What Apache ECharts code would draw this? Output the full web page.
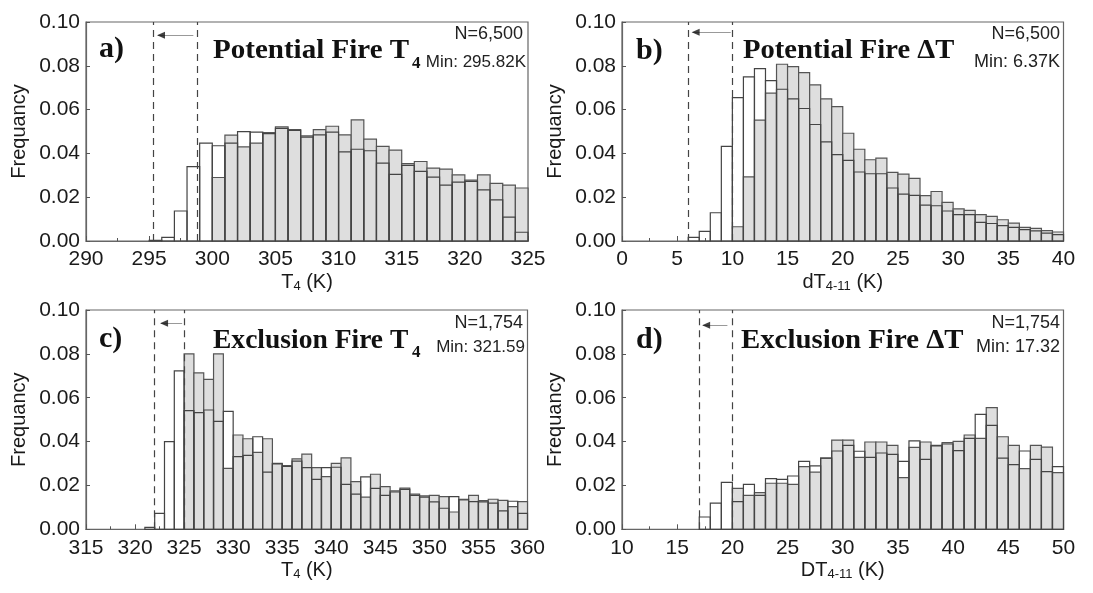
<!DOCTYPE html>
<html><head><meta charset="utf-8">
<script src="https://cdn.jsdelivr.net/npm/echarts@6/dist/echarts.min.js"></script>
<style>html,body{margin:0;padding:0;background:#fff}#c{width:1093px;height:593px}</style>
</head><body><div id="c"></div>
<script>
// ---- data ----
const aBins = [295,296,297,298,299,300,301,302,303,304,305,306,307,308,309,310,311,312,313,314,315,316,317,318,319,320,321,322,323,324];
const aWhite = [0.0003,0.0017,0.0137,0.034,0.0447,0.0435,0.0447,0.0499,0.0497,0.049,0.0514,0.0505,0.0474,0.0485,0.0497,0.0407,0.0419,0.0412,0.0356,0.0304,0.0345,0.0318,0.0292,0.0255,0.0269,0.0272,0.0233,0.0188,0.0109,0.004];
const aGray  = [0,0,0,0,0,0.029,0.0483,0.043,0.0447,0.0495,0.0521,0.0509,0.048,0.0509,0.0524,0.0485,0.0553,0.0465,0.0432,0.0415,0.0353,0.0363,0.0333,0.0328,0.0302,0.0278,0.0302,0.0263,0.0255,0.0242];

const bBins = [6,7,8,9,10,11,12,13,14,15,16,17,18,19,20,21,22,23,24,25,26,27,28,29,30,31,32,33,34,35,36,37,38,39];
const bWhite = [0.0017,0.0044,0.0129,0.0432,0.0655,0.0749,0.0787,0.0732,0.0693,0.0649,0.0605,0.0532,0.0453,0.0394,0.0368,0.0315,0.0307,0.0307,0.0242,0.0214,0.0208,0.0164,0.0161,0.0137,0.012,0.012,0.0085,0.008,0.007,0.0062,0.0052,0.0046,0.0036,0.0029];
const bGray  = [0,0,0,0,0.0065,0.0293,0.0552,0.0675,0.0807,0.0796,0.0769,0.0713,0.0649,0.0614,0.0492,0.0419,0.0371,0.0378,0.0313,0.0305,0.0286,0.0207,0.0226,0.0176,0.0147,0.014,0.012,0.0112,0.0097,0.0082,0.0062,0.0058,0.0047,0.0041];

const cBins = [321,322,323,324,325,326,327,328,329,330,331,332,333,334,335,336,337,338,339,340,341,342,343,344,345,346,347,348,349,350,351,352,353,354,355,356,357,358,359];
const cWhite = [0.0009,0.0073,0.04,0.0722,0.0541,0.0532,0.0544,0.0492,0.0538,0.0331,0.0337,0.0422,0.0261,0.0298,0.0287,0.0311,0.0281,0.0228,0.0281,0.0283,0.0205,0.016,0.0239,0.0187,0.0155,0.017,0.0182,0.0155,0.0147,0.0125,0.0096,0.0149,0.0137,0.0126,0.0125,0.0119,0.0084,0.0128,0.0073];
const cGray  = [0,0,0,0,0.08,0.0713,0.0684,0.08,0.0278,0.043,0.0413,0.0351,0.0413,0.0301,0.029,0.0321,0.0343,0.0281,0.024,0.0301,0.0326,0.0217,0.0147,0.0251,0.0195,0.0175,0.0188,0.016,0.0152,0.0155,0.0149,0.0079,0.0134,0.0155,0.0131,0.0137,0.0132,0.0103,0.0126];

const dBins = [17,18,19,20,21,22,23,24,25,26,27,28,29,30,31,32,33,34,35,36,37,38,39,40,41,42,43,44,45,46,47,48,49];
const dWhite = [0.0056,0.0119,0.0214,0.0126,0.0205,0.0155,0.0231,0.0228,0.0243,0.031,0.0289,0.0325,0.0357,0.0383,0.0356,0.0328,0.0348,0.0342,0.031,0.0403,0.0319,0.038,0.0389,0.0359,0.0415,0.0524,0.0474,0.0325,0.0295,0.0357,0.0319,0.0263,0.0286];
const dGray  = [0,0,0,0.0187,0.0155,0.0167,0.021,0.021,0.0205,0.0286,0.0261,0.0325,0.0407,0.0407,0.0328,0.0398,0.0398,0.0383,0.0236,0.0374,0.0398,0.0383,0.0395,0.0401,0.043,0.0415,0.0555,0.0422,0.0383,0.0277,0.0383,0.0375,0.0258];

const xRanges = [[290,325],[0,40],[315,360],[10,50]];
const cutLines = [[295.3,298.8],[6,10],[322,325],[17,20]];
const arrows = [[298.5,295.7,0.094],[9.85,6.4,0.0953],[324.8,322.65,0.094],[19.55,17.35,0.093]];
const panelLabels = ['a)','b)','c)','d)'];
const titles = ['Potential Fire T','Potential Fire \u0394T','Exclusion Fire T','Exclusion Fire \u0394T'];
const titleSubs = ['4','','4',''];
const counts = ['N=6,500','N=6,500','N=1,754','N=1,754'];
const mins = ['Min: 295.82K','Min: 6.37K','Min: 321.59','Min: 17.32'];
const xNames = [['T','4',' (K)'],['dT','4-11',' (K)'],['T','4',' (K)'],['DT','4-11',' (K)']];
const binWidth = 1;

// ---- chart ----
const grids = [
  {left:86, top:22, width:442, height:219},
  {left:622, top:22, width:441.5, height:219},
  {left:86, top:310, width:441.5, height:219.3},
  {left:622, top:310, width:441.5, height:219.3}
];
const panels = [[aBins,aWhite,aGray],[bBins,bWhite,bGray],[cBins,cWhite,cGray],[dBins,dWhite,dGray]];
const sans = 'Liberation Sans, Arial, sans-serif';
const serif = 'Liberation Serif, Times New Roman, serif';

function histSeries(i, bins, vals, isGray){
  return {
    type:'custom', xAxisIndex:i, yAxisIndex:i, z: isGray?2:3,
    data: bins.map((b,k)=>[b, vals[k]]).filter(d=>d[1]>0),
    renderItem:function(params, api){
      const x0 = api.value(0), v = api.value(1);
      const p0 = api.coord([x0,0]), p1 = api.coord([x0+binWidth, v]);
      return {type:'rect', shape:{x:p0[0], y:p1[1], width:p1[0]-p0[0], height:p0[1]-p1[1]},
        style: isGray ? {fill:'#dedede', stroke:'#555', lineWidth:1.2} : {fill:'none', stroke:'#444', lineWidth:1.2}};
    },
    silent:true, animation:false
  };
}

const option = {
  animation:false,
  backgroundColor:'#fff',
  grid: grids.map(g=>Object.assign({show:true, borderColor:'#666', borderWidth:1.2, backgroundColor:'transparent'}, g)),
  xAxis: grids.map((g,i)=>({
    type:'value', gridIndex:i, min:xRanges[i][0], max:xRanges[i][1], interval:5,
    splitLine:{show:false},
    axisLine:{show:true, onZero:false, lineStyle:{color:'#666', width:1.2}},
    axisTick:{show:true, inside:true, length:5, lineStyle:{color:'#555'}},
    minorTick:{show:true, splitNumber:2, length:3, lineStyle:{color:'#555'}},
    axisLabel:{fontFamily:sans, fontSize:21, color:'#1a1a1a', margin:8},
    name:'{a|'+xNames[i][0]+'}{b|'+xNames[i][1]+'}{a|'+xNames[i][2]+'}',
    nameLocation:'middle', nameGap:30,
    nameTextStyle:{rich:{
      a:{fontFamily:sans, fontSize:20, color:'#1a1a1a', lineHeight:22, verticalAlign:'middle'},
      b:{fontFamily:sans, fontSize:13, color:'#1a1a1a', lineHeight:8, verticalAlign:'bottom'}
    }}
  })),
  yAxis: grids.map((g,i)=>({
    type:'value', gridIndex:i, min:0, max:0.1, interval:0.02,
    splitLine:{show:false},
    axisLine:{show:true, lineStyle:{color:'#666', width:1.2}},
    axisTick:{show:true, inside:true, length:4, lineStyle:{color:'#555'}},
    axisLabel:{fontFamily:sans, fontSize:21, color:'#1a1a1a', margin:6, formatter:v=>v.toFixed(2)},
    name:'Frequancy', nameLocation:'middle', nameGap:57,
    nameTextStyle:{fontFamily:sans, fontSize:20, color:'#1a1a1a'}
  })),
  series: []
};
panels.forEach((p,i)=>{
  option.series.push(histSeries(i, p[0], p[2], true));
  option.series.push(histSeries(i, p[0], p[1], false));
  option.series.push({
    type:'line', xAxisIndex:i, yAxisIndex:i, data:[], silent:true, z:5,
    markLine:{
      silent:true, animation:false, label:{show:false}, symbol:'none',
      data:[
        [{coord:[cutLines[i][0],0]},{coord:[cutLines[i][0],0.1]}],
        [{coord:[cutLines[i][1],0]},{coord:[cutLines[i][1],0.1]}],
      ],
      lineStyle:{type:[7,5], color:'#444', width:1.2}
    }
  });
  option.series.push({
    type:'line', xAxisIndex:i, yAxisIndex:i, data:[], silent:true, z:5,
    markLine:{
      silent:true, animation:false, label:{show:false}, symbol:'none',
      data:[[{coord:[arrows[i][0],arrows[i][2]]},{coord:[arrows[i][1],arrows[i][2]]}]],
      lineStyle:{type:'solid', color:'#999', width:1}
    }
  });
  option.series.push({
    type:'scatter', xAxisIndex:i, yAxisIndex:i, silent:true, z:6,
    data:[[arrows[i][1], arrows[i][2]]],
    symbol:'triangle', symbolRotate:90, symbolSize:[7,8], symbolOffset:[3,0],
    itemStyle:{color:'#111'}
  });
});

// annotation text
const txt = [];
const pos = [
  {lab:[99,49], tit:[213,51], sx:1.075, sub:[412,64], n:[523,34.5], m:[526,62]},
  {lab:[636,51], tit:[743,51], sx:1.06, sub:null, n:[1060,34.5], m:[1060,62]},
  {lab:[99,339], tit:[213,341], sx:1.02, sub:[412,353], n:[523,323.5], m:[525,347]},
  {lab:[636,340], tit:[741,341], sx:1.067, sub:null, n:[1060,323.5], m:[1060,347]}
];
pos.forEach((p,i)=>{
  txt.push({type:'text', x:p.lab[0], y:p.lab[1], style:{text:panelLabels[i], font:'bold 30px '+serif, fill:'#111', verticalAlign:'middle'}});
  txt.push({type:'text', x:p.tit[0], y:p.tit[1], scaleX:p.sx, style:{text:titles[i], font:'bold 27px '+serif, fill:'#111', verticalAlign:'middle'}});
  if(titleSubs[i]) txt.push({type:'text', x:p.sub[0], y:p.sub[1], style:{text:titleSubs[i], font:'bold 17px '+serif, fill:'#111', verticalAlign:'middle'}});
  txt.push({type:'text', x:p.n[0], y:p.n[1], style:{text:counts[i], font:'18px '+sans, fill:'#222', align:'right', verticalAlign:'middle'}});
  txt.push({type:'text', x:p.m[0], y:p.m[1], style:{text:mins[i], font:(titleSubs[i]?'17px ':'18px ')+sans, fill:'#222', align:'right', verticalAlign:'middle'}});
});
option.graphic = txt;

const chart = echarts.init(document.getElementById('c'), null, {renderer:'canvas'});
chart.setOption(option);
</script></body></html>
